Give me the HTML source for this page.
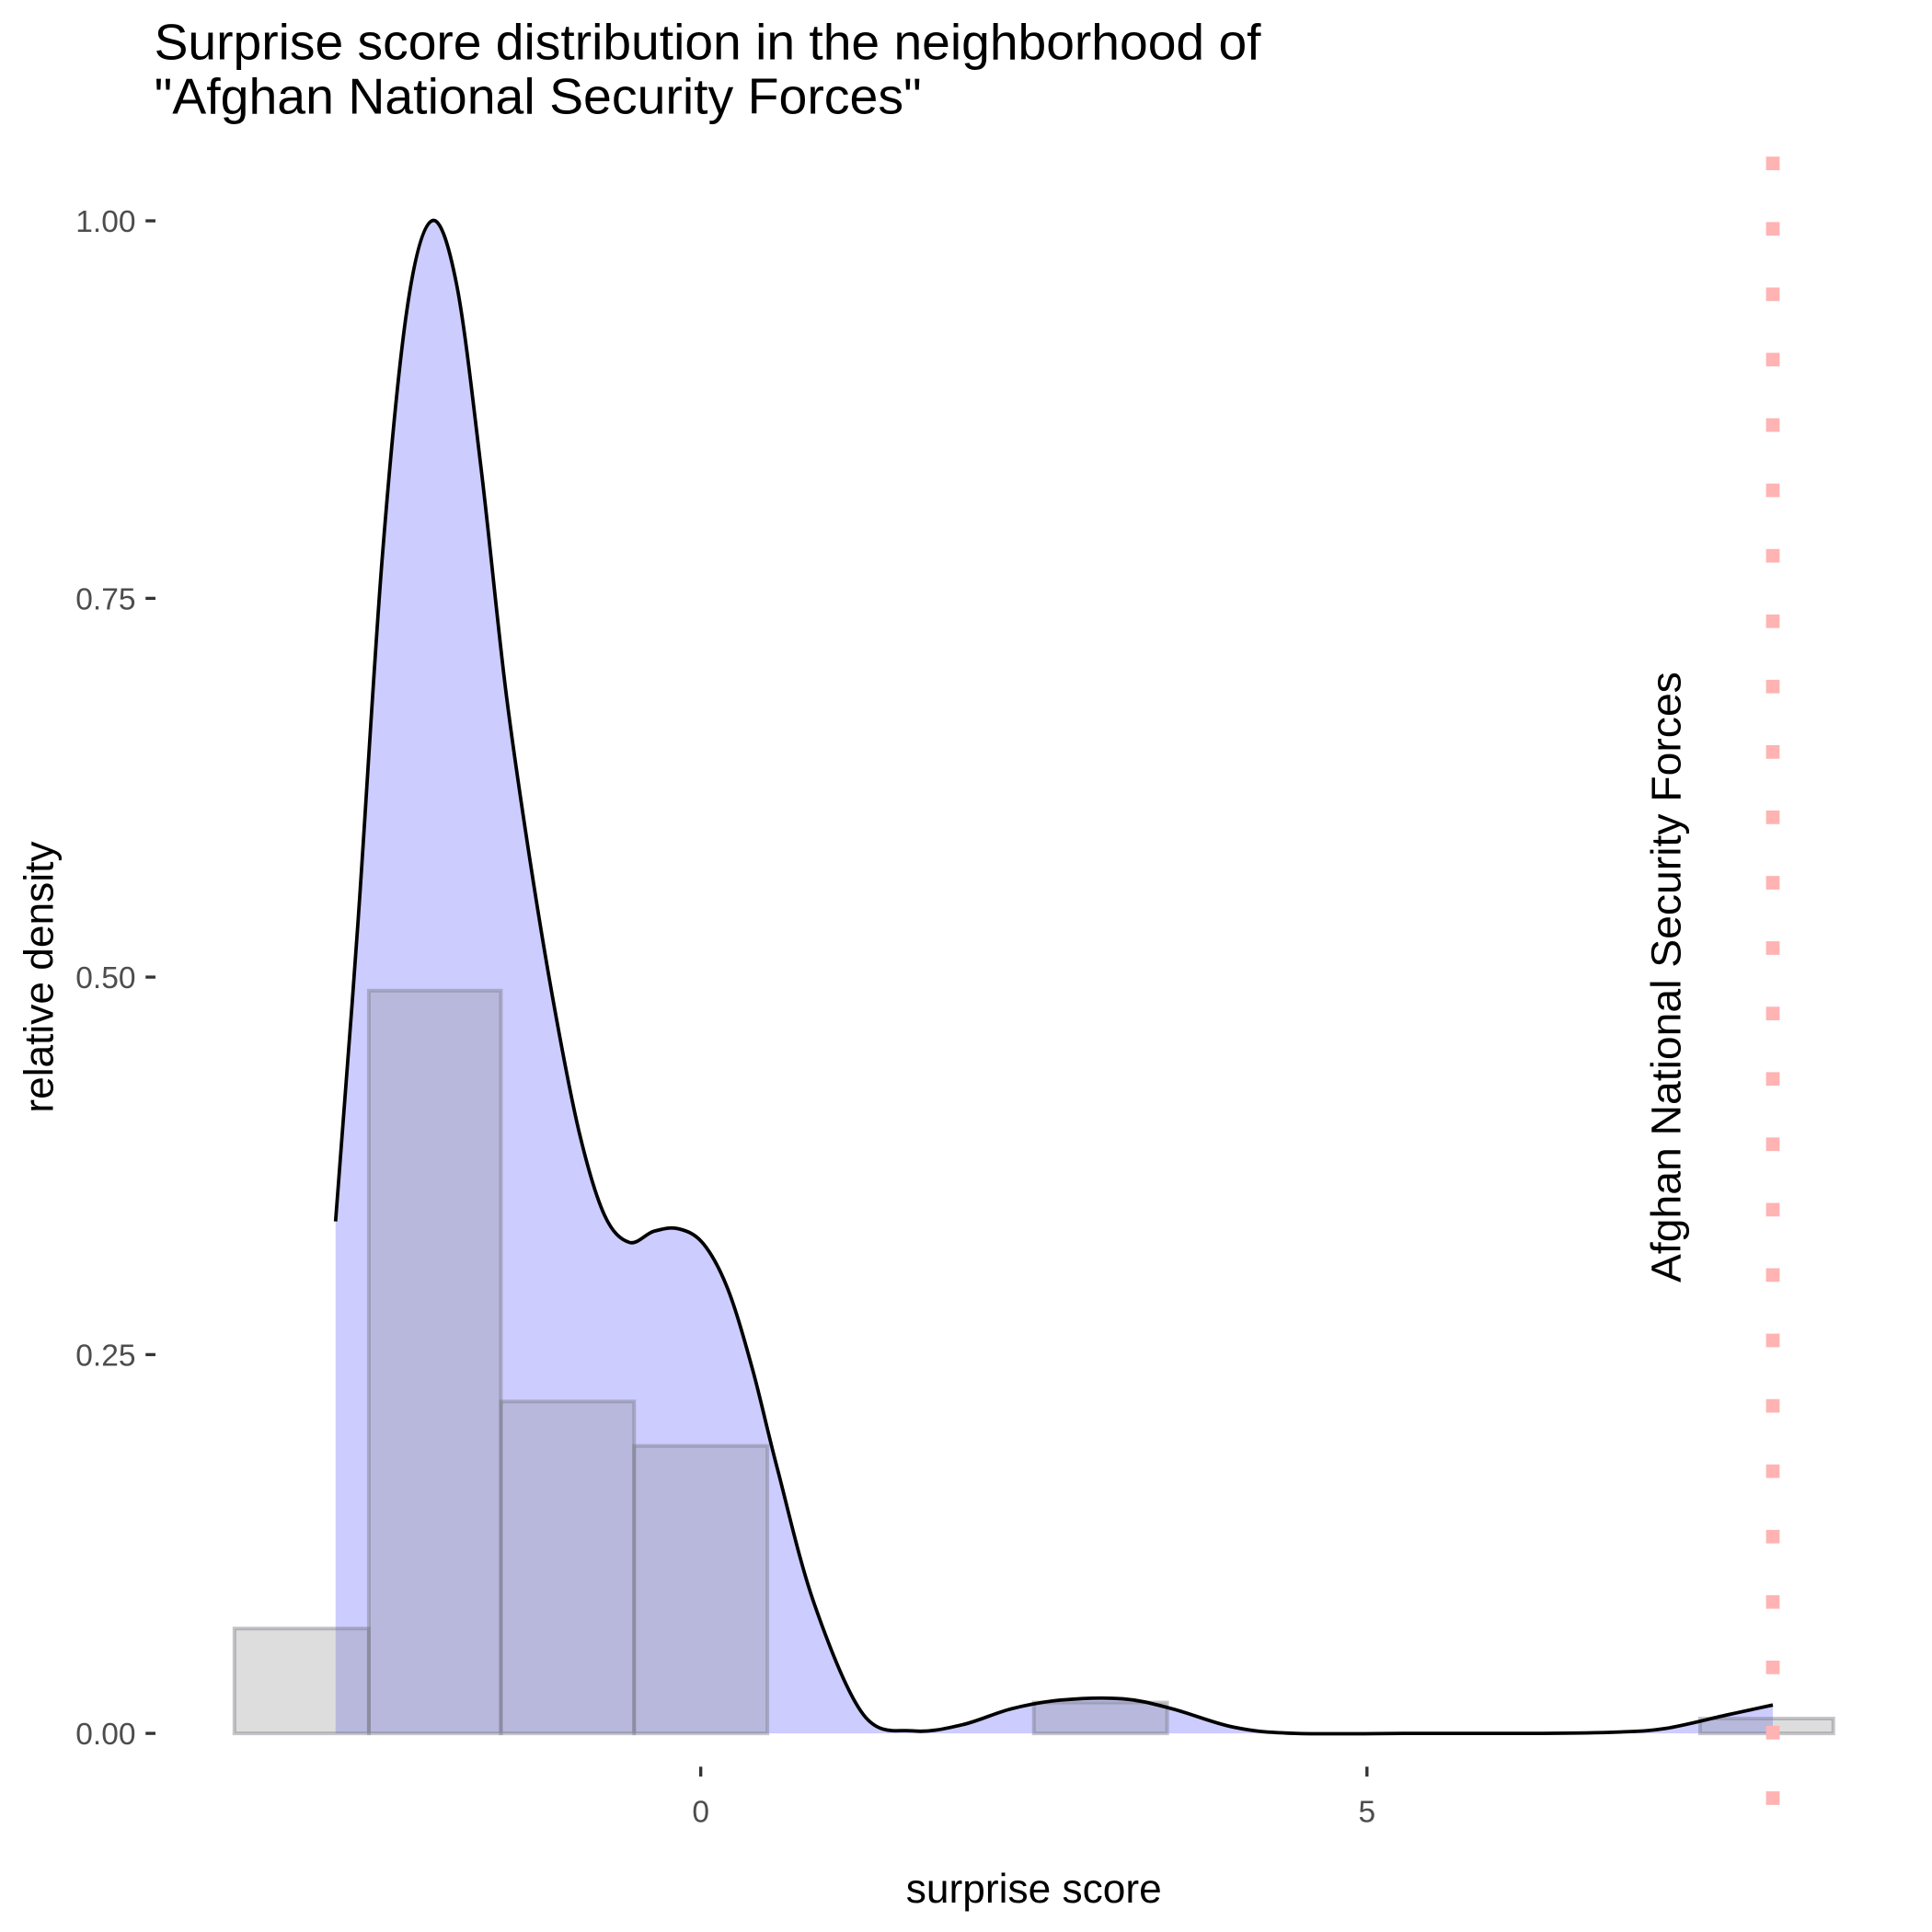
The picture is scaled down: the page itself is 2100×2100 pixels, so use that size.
<!DOCTYPE html>
<html><head><meta charset="utf-8"><style>html,body{margin:0;padding:0;background:#fff}svg{display:block}</style></head>
<body>
<svg width="2100" height="2100" viewBox="0 0 1566 1566" xmlns="http://www.w3.org/2000/svg" font-family="'Liberation Sans', Arial, sans-serif">
<rect width="1566" height="1566" fill="#fff"/>
<path id="fill" d="" fill="#ccccff"/>
<g fill="rgba(128,128,128,0.27)" stroke="rgba(120,120,130,0.42)" stroke-width="3">
<rect x="190" y="1320" width="109" height="85"/>
<rect x="299" y="803" width="107" height="602"/>
<rect x="406" y="1136" width="108" height="269"/>
<rect x="514" y="1172" width="108" height="233"/>
<rect x="838" y="1380" width="108" height="25"/>
<rect x="1378" y="1393" width="108" height="12"/>
</g>
<path id="line" d="" fill="none" stroke="#000" stroke-width="2.8" stroke-linejoin="round"/>
<line x1="1437" y1="127" x2="1437" y2="1470" stroke="#ffb3b3" stroke-width="11" stroke-dasharray="11 42"/>
<text transform="translate(1362,792) rotate(-90)" text-anchor="middle" font-size="34" fill="#000" textLength="495" lengthAdjust="spacingAndGlyphs">Afghan National Security Forces</text>
<g stroke="#333" stroke-width="2.5">
<line x1="118" y1="179" x2="126" y2="179"/><line x1="118" y1="485" x2="126" y2="485"/>
<line x1="118" y1="792" x2="126" y2="792"/><line x1="118" y1="1098" x2="126" y2="1098"/>
<line x1="118" y1="1405" x2="126" y2="1405"/>
<line x1="568" y1="1432" x2="568" y2="1440"/><line x1="1108" y1="1432" x2="1108" y2="1440"/>
</g>
<g font-size="25" fill="#4d4d4d" text-anchor="end">
<text x="110" y="188">1.00</text><text x="110" y="494">0.75</text>
<text x="110" y="801">0.50</text><text x="110" y="1107">0.25</text>
<text x="110" y="1414">0.00</text>
</g>
<g font-size="25" fill="#4d4d4d" text-anchor="middle">
<text x="568" y="1477">0</text><text x="1108" y="1477">5</text>
</g>
<text x="838" y="1542" text-anchor="middle" font-size="33" fill="#000">surprise score</text>
<text transform="translate(43,792) rotate(-90)" text-anchor="middle" font-size="33" fill="#000">relative density</text>
<text x="125" y="48" font-size="41" fill="#000" textLength="897" lengthAdjust="spacingAndGlyphs">Surprise score distribution in the neighborhood of</text>
<text x="125" y="92" font-size="41" fill="#000" textLength="622" lengthAdjust="spacingAndGlyphs">"Afghan National Security Forces"</text>
</svg>
<script>
var p=[[272,990],[290,750],[310,450],[330,250],[350,179],[370,230],[390,380],[410,560],[430,700],[450,820],[470,920],[490,985],[510,1007],[530,998],[550,996],[570,1008],[590,1045],[610,1110],[630,1190],[660,1300],[700,1390],[740,1403],[780,1398],[820,1385],[860,1378],[910,1377],[950,1385],[1000,1400],[1050,1405],[1150,1405],[1250,1405],[1310,1404],[1350,1401],[1400,1390],[1437,1382]];
var d="M"+p[0][0]+","+p[0][1];
for(var i=0;i<p.length-1;i++){var a=p[Math.max(i-1,0)],b=p[i],c=p[i+1],e=p[Math.min(i+2,p.length-1)];
d+=" C"+(b[0]+(c[0]-a[0])/6)+","+(b[1]+(c[1]-a[1])/6)+" "+(c[0]-(e[0]-b[0])/6)+","+(c[1]-(e[1]-b[1])/6)+" "+c[0]+","+c[1];}
document.getElementById("line").setAttribute("d",d);
document.getElementById("fill").setAttribute("d",d+" L1437,1405 L272,1405 Z");
</script>
</body></html>
